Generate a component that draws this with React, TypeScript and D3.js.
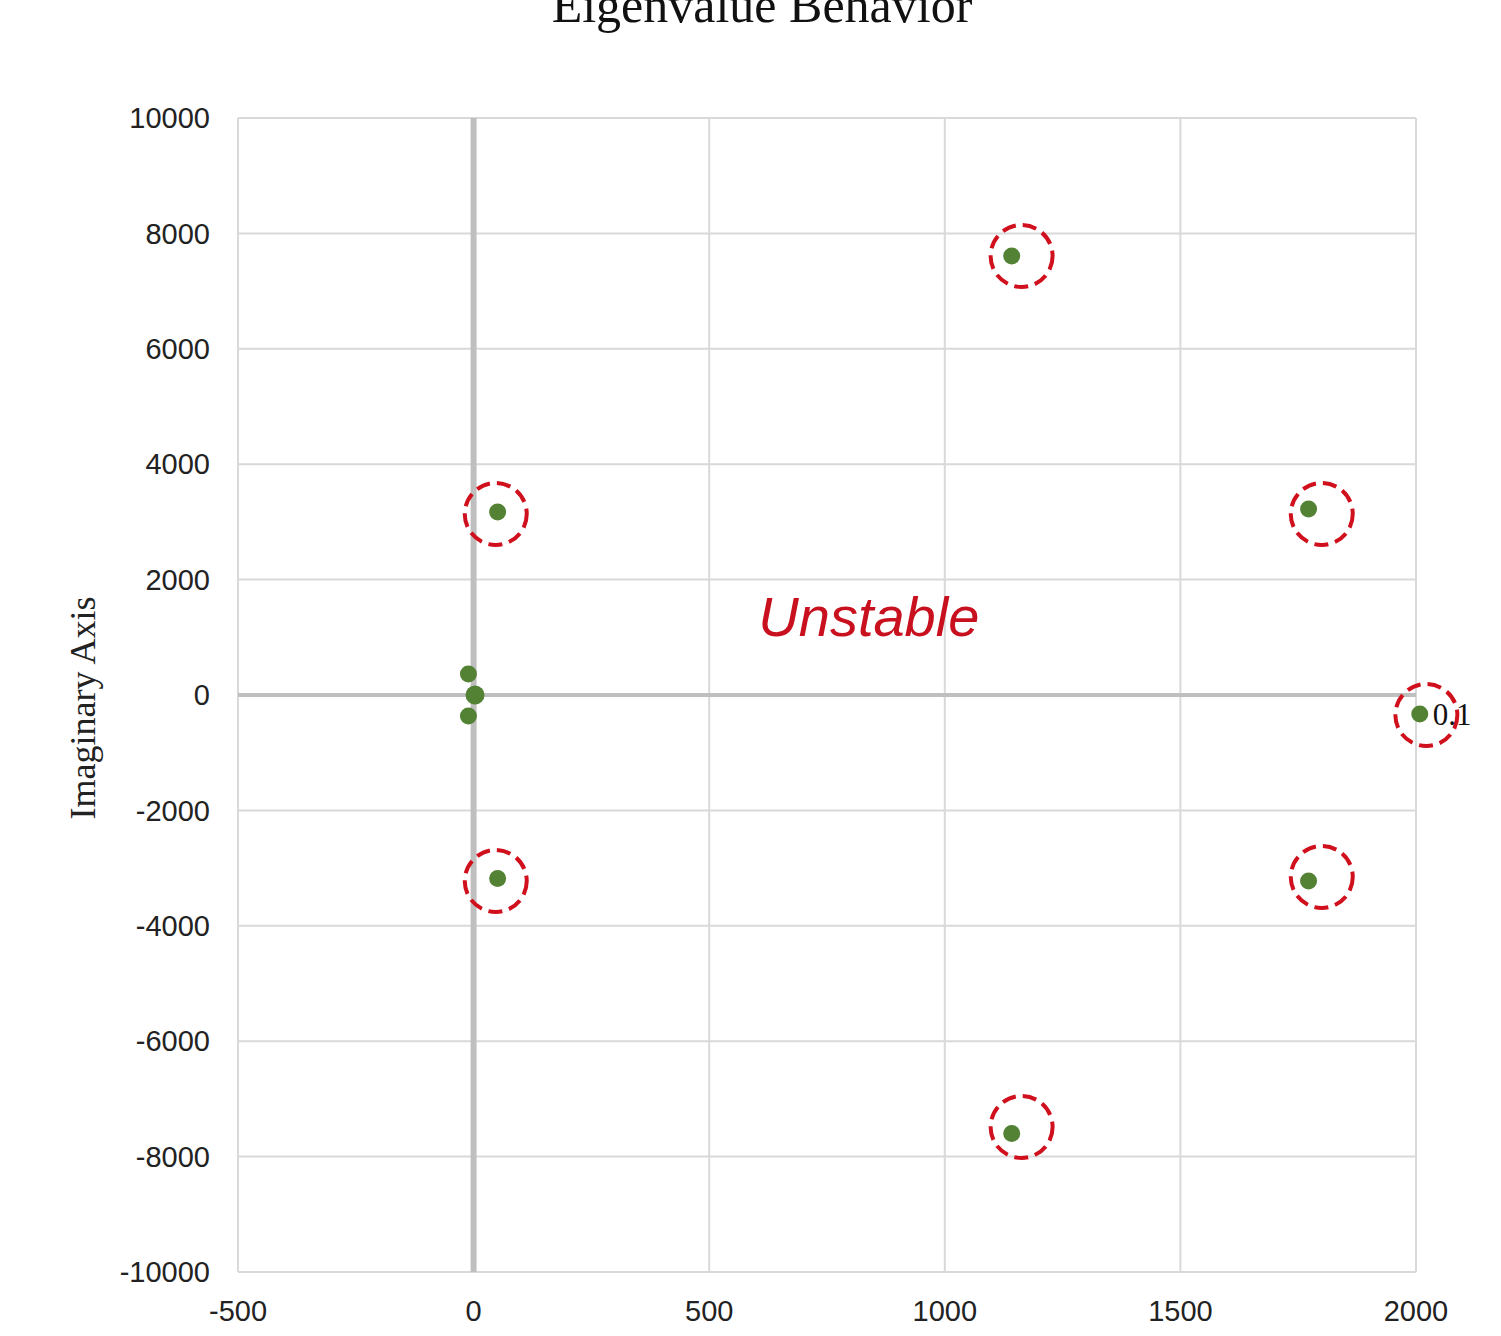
import React from "react";
import * as d3 from "d3";

const realParts = [1142, 1142, 51, 51, 1772, 1772, 2008, -11, 3, -11];
const imagParts = [7608, -7600, 3171, -3180, 3224, -3224, -329, 364, 0, -364];
const circledReal = [1163, 1163, 47, 47, 1800, 1800, 2022];
const circledImag = [7608, -7487, 3137, -3224, 3137, -3154, -347];
const xTicks = [-500, 0, 500, 1000, 1500, 2000];
const yTicks = [10000, 8000, 6000, 4000, 2000, 0, -2000, -4000, -6000, -8000, -10000];
const pointLabel = { re: 2008, im: -329, text: "0.1" };
const regionLabel = { re: 600, im: 1030, text: "Unstable" };

const W = 1501, H = 1336;
const left = 238, right = 1416, top = 118, bottom = 1272;

export default function App() {
  const x = d3.scaleLinear().domain([-500, 2000]).range([left, right]);
  const y = d3.scaleLinear().domain([-10000, 10000]).range([bottom, top]);
  const tickFont = "'Liberation Sans', Arial, sans-serif";
  const serif = "'Liberation Serif', 'Times New Roman', serif";
  return (
    <svg width={W} height={H} style={{ position: "absolute", left: 0, top: 0, background: "#fff" }}>
      <text x={762} y={22} textAnchor="middle" fontFamily={serif} fontSize={50} fill="#111">Eigenvalue Behavior</text>
      {xTicks.map(t => (
        <line key={"gx" + t} x1={x(t)} x2={x(t)} y1={top} y2={bottom} stroke="#d9d9d9" strokeWidth={2} />
      ))}
      {yTicks.map(t => (
        <line key={"gy" + t} x1={left} x2={right} y1={y(t)} y2={y(t)} stroke="#d9d9d9" strokeWidth={2} />
      ))}
      <line x1={left} x2={right} y1={y(0)} y2={y(0)} stroke="#bfbfbf" strokeWidth={4} />
      <line x1={x(0)} x2={x(0)} y1={top} y2={bottom} stroke="#bfbfbf" strokeWidth={6} />
      {yTicks.map(t => (
        <text key={"ty" + t} x={210} y={y(t)} dy="0.35em" textAnchor="end" fontFamily={tickFont} fontSize={29} fill="#222">{t}</text>
      ))}
      {xTicks.map(t => (
        <text key={"tx" + t} x={x(t)} y={1321} textAnchor="middle" fontFamily={tickFont} fontSize={29} fill="#222">{t}</text>
      ))}
      <text transform={`translate(95,708) rotate(-90)`} textAnchor="middle" fontFamily={serif} fontSize={36} fill="#222">Imaginary Axis</text>
      <text x={x(regionLabel.re) + 2} y={y(regionLabel.im)} fontFamily={tickFont} fontStyle="italic" fontSize={56} fill="#c8101e">{regionLabel.text}</text>
      {realParts.map((re, i) => (
        <circle key={"p" + i} cx={x(re)} cy={y(imagParts[i])} r={i === 8 ? 9.5 : 8.5} fill="#548235" />
      ))}
      {circledReal.map((re, i) => (
        <circle key={"c" + i} cx={x(re)} cy={y(circledImag[i])} r={31} fill="none" stroke="#d0101c" strokeWidth={4} strokeDasharray="14 7" />
      ))}
      <text x={x(pointLabel.re) + 13} y={y(pointLabel.im)} dy="0.35em" fontFamily={serif} fontSize={31} fill="#111">{pointLabel.text}</text>
    </svg>
  );
}
